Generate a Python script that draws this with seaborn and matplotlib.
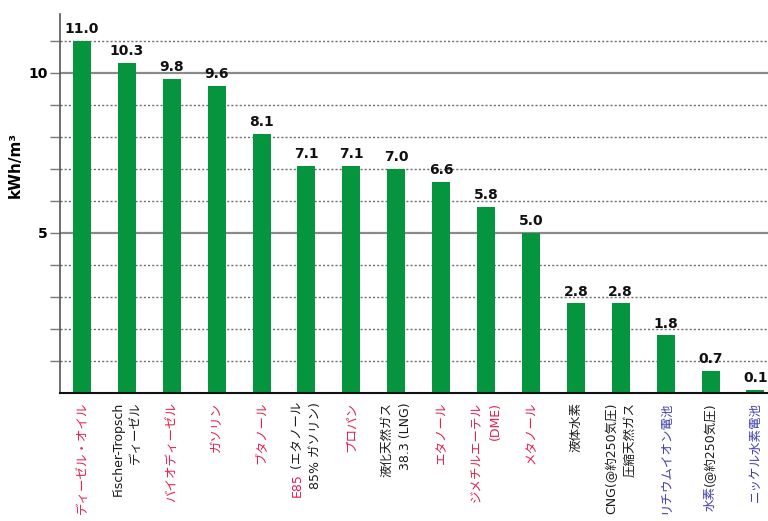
import matplotlib
matplotlib.use("Agg")
import matplotlib.pyplot as plt
import seaborn as sns
import pandas as pd
from matplotlib.ticker import FixedLocator

# Volumetric energy density of fuels and storage media
fuels = [
    "ディーゼル・オイル",
    "Fischer-Tropsch\nディーゼル",
    "バイオディーゼル",
    "ガソリン",
    "ブタノール",
    "E85 (エタノール\n85% ガソリン)",
    "プロパン",
    "液化天然ガス\n38.3 (LNG)",
    "エタノール",
    "ジメチルエーテル\n(DME)",
    "メタノール",
    "液体水素",
    "CNG(@約250気圧)\n圧縮天然ガス",
    "リチウムイオン電池",
    "水素(@約250気圧)",
    "ニッケル水素電池",
]
energy_density = [11.0, 10.3, 9.8, 9.6, 8.1, 7.1, 7.1, 7.0, 6.6, 5.8, 5.0,
                  2.8, 2.8, 1.8, 0.7, 0.1]
label_kind = ["red", "black", "red", "red", "red", "black", "red", "black",
              "red", "red", "red", "black", "black", "blue", "black", "blue"]
highlight_prefix = {"E85": "red", "水素": "blue"}

major_ticks = [5, 10]
minor_ticks = [1, 2, 3, 4, 6, 7, 8, 9, 11]

GREEN = "#06953f"
palette = {"red": "#e81e4c", "blue": "#3e3eae", "black": "#1a1a1a"}

W, H = 768, 521
fig = plt.figure(figsize=(W / 100, H / 100), dpi=100)
ax = fig.add_axes([60 / W, 1 - 393 / H, 1 - 60 / W, (393 - 14) / H])

df = pd.DataFrame({"fuel": fuels, "kwh": energy_density})
sns.barplot(data=df, x="fuel", y="kwh", order=fuels, color=GREEN,
            saturation=1, width=0.4, ax=ax)

ax.set_xlim(-0.49, 15.28)
ax.set_ylim(0, 11.84)

ax.bar_label(ax.containers[0], fmt="%.1f", padding=3.5,
             fontsize=10, fontweight="bold", color="#111111")

# y axis: solid lines at 5 and 10, dotted lines at the other integers
ax.yaxis.set_major_locator(FixedLocator(major_ticks))
ax.yaxis.set_minor_locator(FixedLocator(minor_ticks))
ax.set_yticklabels([str(v) for v in major_ticks], fontsize=10,
                   fontweight="bold")
ax.yaxis.grid(True, which="major", color="#8a8a8a", lw=1.6, ls="-")
ax.yaxis.grid(True, which="minor", color="#6e6e6e", lw=1.0,
              ls=(0, (1.5, 1.5)))
ax.tick_params(axis="y", which="both", length=7, width=1, color="#7a7a7a",
               pad=2)
ax.set_axisbelow(True)

ax.set_ylabel("kWh/m³", fontsize=11, fontweight="bold")
ax.yaxis.set_label_coords(-(60 - 23) / (W - 60), (393 - 165) / 379)

for side in ("top", "right"):
    ax.spines[side].set_visible(False)
ax.spines["left"].set_color("#555555")
ax.spines["left"].set_linewidth(1.2)
ax.spines["bottom"].set_color("#111111")
ax.spines["bottom"].set_linewidth(1.5)

# vertical category labels, one text per line, coloured by kind
ax.set_xticks(range(len(fuels)))
ax.set_xticklabels([])
ax.tick_params(axis="x", length=0)
ax.set_xlabel("")

label_font = dict(family=["DejaVu Sans", "Noto Sans CJK JP"], fontsize=9)
trans = ax.get_xaxis_transform()
y_top = -9 / 379
for i, (label, kind) in enumerate(zip(fuels, label_kind)):
    lines = label.split("\n")
    n = len(lines)
    for j, line in enumerate(lines):
        x = i + (j - (n - 1) / 2) * 0.4
        prefix = next((p for p in highlight_prefix if line.startswith(p)), None)
        if prefix:
            rest = ax.text(x, y_top, line[len(prefix):], transform=trans,
                           rotation=90, ha="center", va="top",
                           color=palette[kind], **label_font)
            ax.annotate(prefix, xy=(0.5, 0), xycoords=rest, rotation=90,
                        ha="center", va="top",
                        color=palette[highlight_prefix[prefix]], **label_font)
        else:
            ax.text(x, y_top, line, transform=trans, rotation=90,
                    ha="center", va="top", color=palette[kind], **label_font)

fig.savefig("out.png", dpi=100)
